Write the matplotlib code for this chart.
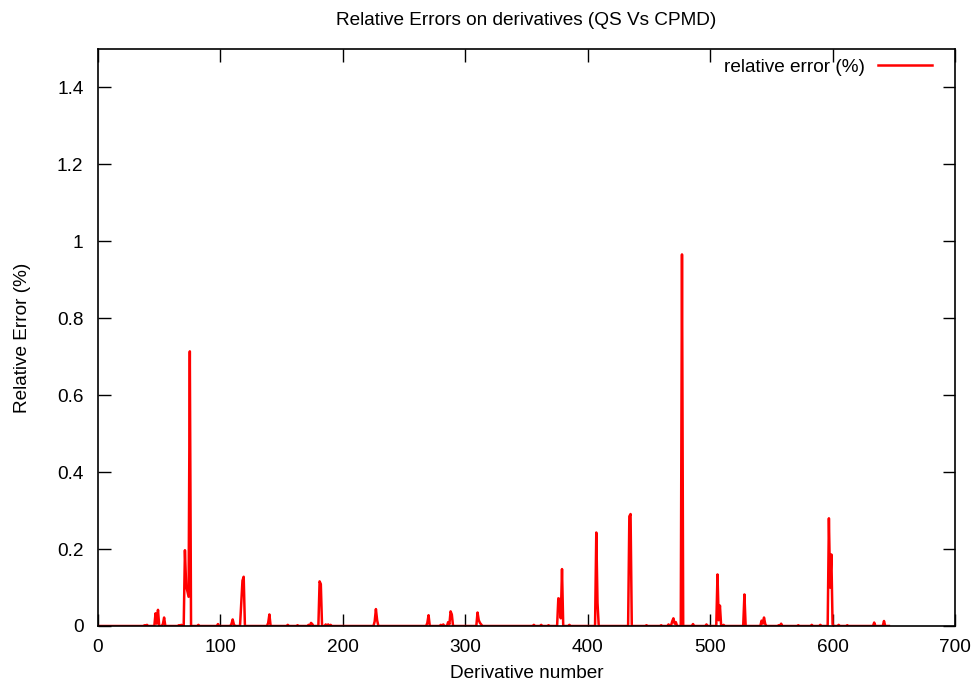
import numpy as np
import matplotlib
matplotlib.use("Agg")
import matplotlib.pyplot as plt

# ---- data ----
n_derivatives = 646
spike_x = [38, 40, 47, 48, 49, 53, 54, 66, 68,
           71, 72, 73, 74, 75, 82, 98,
           109, 110, 111, 117, 118, 119, 139, 140, 155, 163,
           172, 174, 175, 181, 182, 186, 188, 190,
           226, 227, 228, 269, 270, 280, 282, 286, 287, 288, 289,
           310, 311, 312, 313, 356, 362, 368,
           376, 377, 378, 379, 385, 407, 408, 434, 435,
           448, 460, 466, 469, 470, 471, 472, 477, 486, 497,
           506, 507, 508, 511, 528, 542, 543, 544, 545, 556, 558,
           572, 583, 590, 597, 598, 599, 600, 605, 612, 634, 642]
spike_y = [0.002, 0.003, 0.033, 0.006, 0.042, 0.005, 0.022, 0.002, 0.003,
           0.197, 0.105, 0.090, 0.076, 0.714, 0.003, 0.005,
           0.005, 0.017, 0.004, 0.060, 0.118, 0.128, 0.008, 0.030, 0.003, 0.002,
           0.003, 0.008, 0.005, 0.116, 0.109, 0.004, 0.004, 0.003,
           0.012, 0.044, 0.015, 0.008, 0.028, 0.003, 0.004, 0.010, 0.004, 0.038, 0.030,
           0.035, 0.015, 0.008, 0.004, 0.003, 0.003, 0.002,
           0.072, 0.070, 0.020, 0.148, 0.003, 0.243, 0.060, 0.285, 0.291,
           0.002, 0.002, 0.004, 0.012, 0.020, 0.006, 0.010, 0.966, 0.005, 0.004,
           0.134, 0.015, 0.053, 0.003, 0.082, 0.014, 0.006, 0.022, 0.005, 0.002, 0.006,
           0.002, 0.003, 0.003, 0.280, 0.100, 0.186, 0.004, 0.003, 0.002, 0.009, 0.013]

x_ticks = [0, 100, 200, 300, 400, 500, 600, 700]
y_ticks = [0, 0.2, 0.4, 0.6, 0.8, 1.0, 1.2, 1.4]
y_tick_labels = ["0", "0.2", "0.4", "0.6", "0.8", "1", "1.2", "1.4"]

deriv = np.arange(0, n_derivatives + 1)
rel_err = np.zeros(len(deriv))
rel_err[np.array(spike_x)] = spike_y

# ---- figure ----
plt.rcParams['font.family'] = ['Liberation Sans', 'DejaVu Sans']
FS = 13.7

fig = plt.figure(figsize=(9.75, 6.82), dpi=100)
ax = fig.add_axes([98/975, (682-626)/682, (955-98)/975, (626-49)/682])

ax.plot(deriv, rel_err, color='#ff0000', lw=1.8, label='relative error (%)')

ax.set_xlim(0, 700)
ax.set_ylim(0, 1.5)
ax.set_xticks(x_ticks)
ax.set_xticklabels([str(v) for v in x_ticks])
ax.set_yticks(y_ticks)
ax.set_yticklabels(y_tick_labels)

ax.tick_params(direction='in', length=9, width=1, top=True, right=True,
               labelsize=FS, colors='black')
ax.tick_params(axis='y', pad=10.5)
ax.tick_params(axis='x', pad=9)
for s in ax.spines.values():
    s.set_linewidth(1.2)
    s.set_color('black')

ax.set_xlabel('Derivative number', fontsize=FS, labelpad=6.5)
ax.set_ylabel('Relative Error (%)', fontsize=FS, labelpad=19)
ax.set_title('Relative Errors on derivatives (QS Vs CPMD)', fontsize=FS, pad=17)

ax.legend(loc='center right', bbox_to_anchor=((932-98)/857, (626-67)/577),
          frameon=False, markerfirst=False, handlelength=2.84,
          handletextpad=0.68, borderpad=0, borderaxespad=0, fontsize=FS)

fig.savefig('out.png', dpi=100)
